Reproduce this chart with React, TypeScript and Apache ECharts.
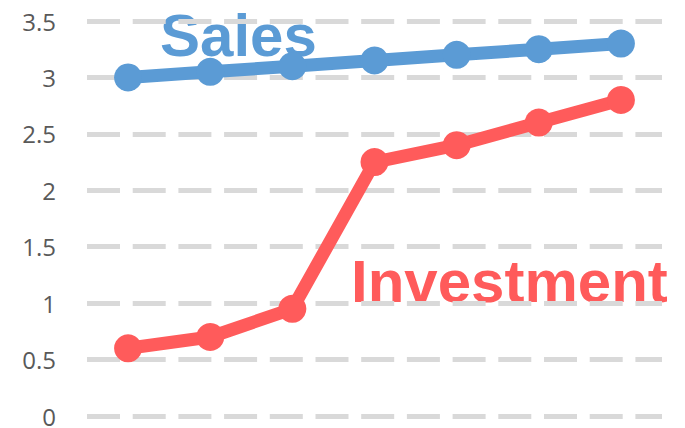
import React, { useEffect, useRef } from "react";
import * as echarts from "echarts";

const categories = ["1", "2", "3", "4", "5", "6", "7"];
const salesValues = [3.0, 3.05, 3.1, 3.15, 3.2, 3.25, 3.3];
const investmentValues = [0.6, 0.7, 0.95, 2.25, 2.4, 2.6, 2.8];
const seriesNames = ["Sales", "Investment"];

export default function App() {
  const ref = useRef<HTMLDivElement>(null);
  useEffect(() => {
    if (!ref.current) return;
    const chart = echarts.init(ref.current, undefined, { renderer: "svg" });
    chart.setOption({
      animation: false,
      grid: { left: 87, right: 23, top: 21, bottom: 11 },
      xAxis: {
        type: "category",
        data: categories,
        boundaryGap: true,
        axisLine: { show: false },
        axisTick: { show: false },
        axisLabel: { show: false },
      },
      yAxis: {
        type: "value",
        min: 0,
        max: 3.5,
        interval: 0.5,
        axisLine: { show: false },
        axisTick: { show: false },
        axisLabel: {
          color: "#595959",
          fontSize: 24,
          lineHeight: 20,
          fontFamily: "Open Sans",
          margin: 31,
        },
        splitLine: {
          lineStyle: { color: "#d9d9d9", width: 5, type: [33, 12.7] },
        },
      },
      series: [
        {
          name: seriesNames[0],
          type: "line",
          data: salesValues,
          symbol: "circle",
          symbolSize: 28,
          lineStyle: { color: "#5b9bd5", width: 13 },
          itemStyle: { color: "#5b9bd5" },
        },
        {
          name: seriesNames[1],
          type: "line",
          data: investmentValues,
          symbol: "circle",
          symbolSize: 28,
          lineStyle: { color: "#ff5b5b", width: 13 },
          itemStyle: { color: "#ff5b5b" },
        },
        {
          type: "scatter",
          data: salesValues,
          symbolSize: 2,
          itemStyle: { color: "#404040" },
          silent: true,
        },
        {
          type: "scatter",
          data: investmentValues,
          symbolSize: 2,
          itemStyle: { color: "#ffff00" },
          silent: true,
        },
      ],
      graphic: [
        {
          type: "text",
          x: 160,
          y: 35,
          style: {
            text: seriesNames[0],
            fill: "#5b9bd5",
            font: "bold 60px 'Liberation Sans', Arial, sans-serif",
            textVerticalAlign: "middle",
          },
        },
        {
          type: "text",
          x: 351,
          y: 281,
          style: {
            text: seriesNames[1],
            fill: "#ff5b5b",
            font: "bold 60px 'Liberation Sans', Arial, sans-serif",
            textVerticalAlign: "middle",
          },
        },
      ],
    });
    return () => chart.dispose();
  }, []);
  return <div ref={ref} style={{ width: 685, height: 428, position: "absolute", left: 0, top: 0 }} />;
}
